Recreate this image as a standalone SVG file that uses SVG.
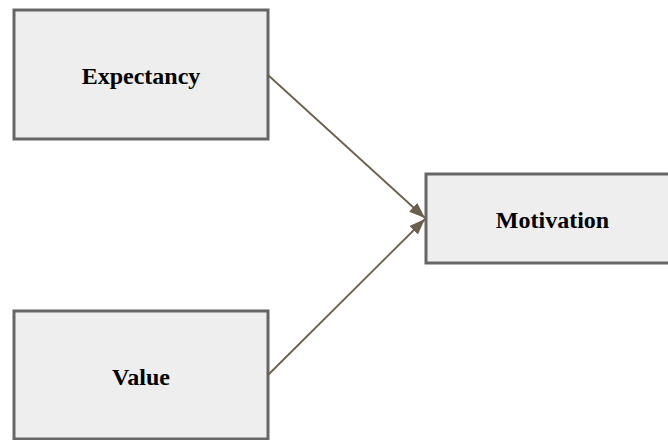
<svg xmlns="http://www.w3.org/2000/svg" width="668" height="440" viewBox="0 0 668 440">
<style>
.box{fill:#eeeeee;stroke:#666666;stroke-width:3}
.lbl{font-family:"Liberation Serif","Times New Roman",serif;font-weight:bold;font-size:24px;fill:#000;text-anchor:middle}
.edge{stroke:#6b604c;stroke-width:1.8;fill:none}
</style>
<defs>
<marker id="ah" viewBox="0 0 16 12" refX="16" refY="6" markerWidth="16" markerHeight="12" markerUnits="userSpaceOnUse" orient="auto">
<path d="M0,0 L16,6 L0,12 z" fill="#6b604c"/>
</marker>
</defs>
<rect width="668" height="440" fill="#ffffff"/>
<g id="expectancy"><rect class="box" x="14" y="10" width="254" height="129"/><text class="lbl" x="141" y="84">Expectancy</text></g>
<g id="value"><rect class="box" x="14" y="311" width="254" height="128"/><text class="lbl" x="141" y="385">Value</text></g>
<g id="motivation"><rect class="box" x="426" y="174" width="254" height="89"/><text class="lbl" x="552.5" y="228">Motivation</text></g>
<g id="connectors">
<line class="edge" x1="268" y1="75" x2="425" y2="218" marker-end="url(#ah)"/>
<line class="edge" x1="268" y1="375" x2="425" y2="219" marker-end="url(#ah)"/>
</g>
</svg>
